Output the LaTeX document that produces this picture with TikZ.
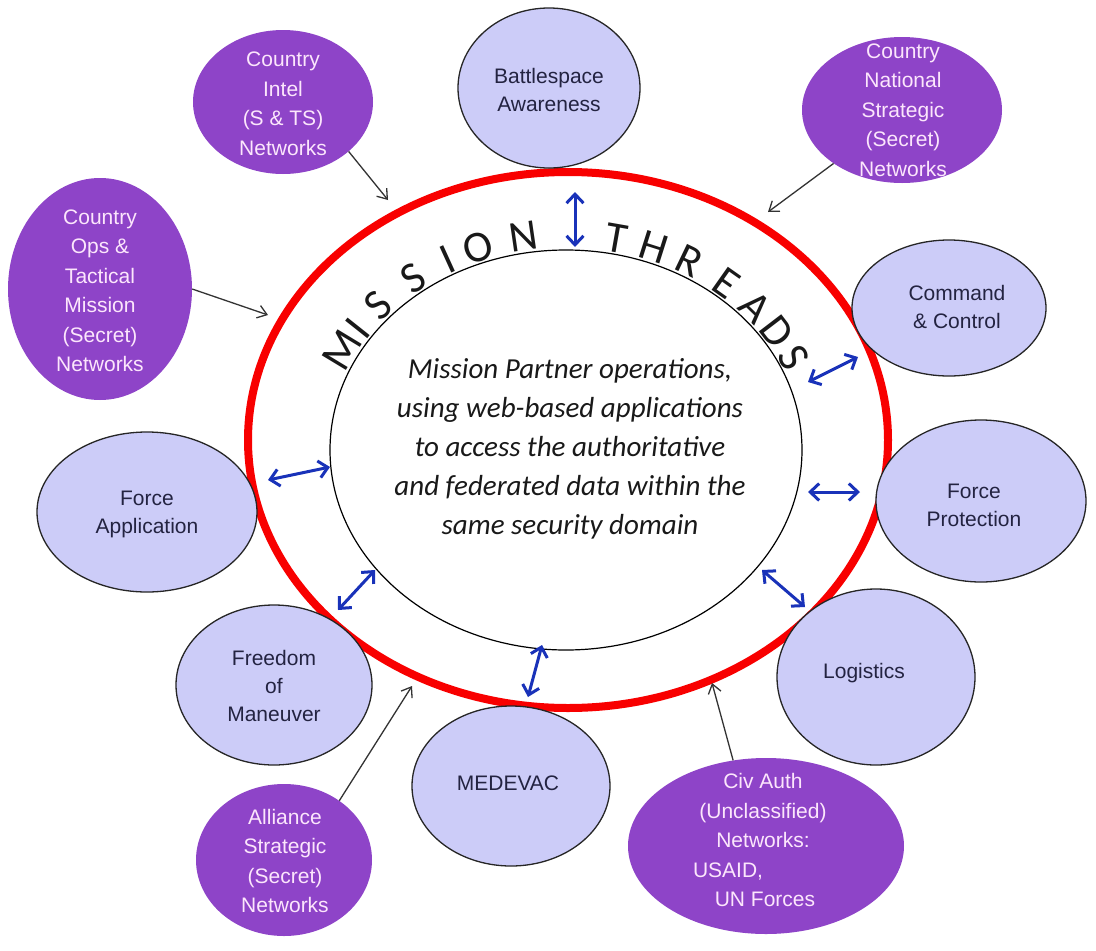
\documentclass[tikz,border=0pt]{standalone}
\usepackage{fontspec}
\setmainfont{Liberation Sans}
\newfontfamily\calibri{Carlito}
\usetikzlibrary{shapes.geometric,arrows.meta}
\definecolor{lav}{RGB}{204,204,248}
\definecolor{purp}{RGB}{142,68,200}
\definecolor{ptext}{RGB}{252,230,252}
\definecolor{ltext}{RGB}{35,35,65}
\definecolor{ringred}{RGB}{248,0,0}
\definecolor{arrblue}{RGB}{25,50,185}
\begin{document}
\begin{tikzpicture}[x=1pt,y=-1pt,
  lavnode/.style={ellipse, draw=black!85, line width=1.3pt, fill=lav, inner sep=0pt},
  purpnode/.style={ellipse, fill=purp, inner sep=0pt},
  lavtext/.style={text=ltext, align=center, inner sep=0pt, font=\fontsize{21}{28}\selectfont},
  purptext/.style={text=ptext, align=center, inner sep=0pt, font=\fontsize{21}{29.5}\selectfont},
  feed/.style={-{Straight Barb[length=9pt,width=13pt]}, line width=1.3pt, black!80},
  link/.style={{Straight Barb[length=9pt,width=17pt]}-{Straight Barb[length=9pt,width=17pt]}, line width=3pt, arrblue},
  letter/.style={font=\calibri\fontsize{44}{44}\selectfont, inner sep=0pt, text=black!90}]
\fill[white] (0,0) rectangle (1096,951);
\useasboundingbox (0,0) rectangle (1096,951);

% central ring and core
\node[ellipse, draw=ringred, line width=8pt, minimum width=640pt, minimum height=536pt, inner sep=0pt] (ring) at (568,440) {};
\node[ellipse, draw=black, line width=1.2pt, fill=white, minimum width=472pt, minimum height=400pt, inner sep=0pt] (core) at (566,450) {};
\node[font=\calibri\itshape\fontsize{29}{39}\selectfont, align=center, text=black!90, inner sep=0pt] (coreT) at (570,449)
  {Mission Partner operations,\\using web-based applications\\to access the authoritative\\and federated data within the\\same security domain};

% MISSION THREADS lettering, set on the core's outline
\foreach \t/\ch [count=\i] in {152.8/M, 146/I, 138.3/S, 127.6/S, 118.2/I, 110.7/O, 99.7/N,
  78.3/T, 69.5/H, 60.6/R, 50.3/E, 41.1/A, 33/D, 25.1/S}{
  \pgfmathsetmacro{\ang}{atan2(-202*cos(\t), 238*sin(\t))}
  \node[letter, anchor=base, rotate=\ang] (ltr\i) at ({566+238*cos(\t)}, {450-202*sin(\t)}) {\ch};
}

% mission thread satellites
\node[lavnode, minimum width=182pt, minimum height=160pt] (bsa) at (549,88) {};
\node[lavtext] (bsaT) at (549,90) {Battlespace\\Awareness};
\node[lavnode, minimum width=194pt, minimum height=136pt] (cc) at (949,308) {};
\node[lavtext] (ccT) at (957,307) {Command\\\& Control};
\node[lavnode, minimum width=210pt, minimum height=162pt] (fp) at (981,501) {};
\node[lavtext] (fpT) at (974,505) {Force\\Protection};
\node[lavnode, minimum width=198pt, minimum height=176pt] (log) at (876,677) {};
\node[lavtext] (logT) at (864,673) {Logistics};
\node[lavnode, minimum width=198pt, minimum height=160pt] (med) at (511,786) {};
\node[lavtext] (medT) at (508,783) {MEDEVAC};
\node[lavnode, minimum width=196pt, minimum height=160pt] (fom) at (274,685) {};
\node[lavtext] (fomT) at (274,686) {Freedom\\of\\Maneuver};
\node[lavnode, minimum width=220pt, minimum height=160pt] (fa) at (147,512) {};
\node[lavtext] (faT) at (147,514) {Force\\Application};

% networks
\node[purpnode, minimum width=180pt, minimum height=144pt] (intel) at (283,102) {};
\node[purptext] (intelT) at (283,104) {Country\\Intel\\(S \& TS)\\Networks};
\node[purpnode, minimum width=184pt, minimum height=222pt] (ops) at (100,289) {};
\node[purptext] (opsT) at (100,291) {Country\\Ops \&\\Tactical\\Mission\\(Secret)\\Networks};
\node[purpnode, minimum width=200pt, minimum height=146pt] (natl) at (902,110) {};
\node[purptext] (natlT) at (903,110) {Country\\National\\Strategic\\(Secret)\\Networks};
\node[purpnode, minimum width=176pt, minimum height=152pt] (ally) at (284,860) {};
\node[purptext] (allyT) at (285,861) {Alliance\\Strategic\\(Secret)\\Networks};
\node[purpnode, minimum width=276pt, minimum height=176pt] (civ) at (766,846) {};
\node[purptext] (civT) at (763,840) {Civ Auth\\(Unclassified)\\Networks:\\\makebox[140pt][l]{USAID,}\\\hspace*{4pt}UN Forces};

% feeds into the ring
\coordinate (tIntel) at (388,200);
\coordinate (tOps) at (268,315);
\coordinate (tNatl) at (768,212);
\coordinate (tAlly) at (412,686);
\coordinate (tCiv) at (712,683);
\draw[feed] (intel.-37) -- (tIntel);
\draw[feed] (ops.east) -- (tOps);
\draw[feed] (natl.-142) -- (tNatl);
\draw[feed] (ally.47) -- (tAlly);
\draw[feed] (civ.111) -- (tCiv);

% two-way links
\coordinate (bsaA) at (575,192); \coordinate (bsaB) at (575,247);
\coordinate (ccA) at (808,382);  \coordinate (ccB) at (858,357);
\coordinate (fpA) at (808,492);  \coordinate (fpB) at (860,492);
\coordinate (logA) at (762,570); \coordinate (logB) at (805,607);
\coordinate (medA) at (528,697); \coordinate (medB) at (542,645);
\coordinate (fomA) at (338,610); \coordinate (fomB) at (375,570);
\coordinate (faA) at (268,480);  \coordinate (faB) at (330,467);
\draw[link] (bsaA) -- (bsaB);
\draw[link] (ccA) -- (ccB);
\draw[link] (fpA) -- (fpB);
\draw[link] (logA) -- (logB);
\draw[link] (medA) -- (medB);
\draw[link] (fomA) -- (fomB);
\draw[link] (faA) -- (faB);
\end{tikzpicture}
\end{document}
